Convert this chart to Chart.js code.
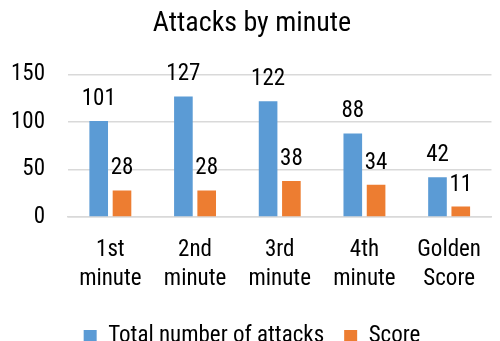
<!DOCTYPE html>
<html>
<head>
<meta charset="utf-8">
<script src="https://cdn.jsdelivr.net/npm/chart.js@4/dist/chart.umd.min.js"></script>
<style>
  html, body { margin: 0; padding: 0; background: #fff; }
  #wrap { width: 500px; height: 341px; }
</style>
</head>
<body>
<div id="wrap"><canvas id="attacksChart" width="500" height="341"></canvas></div>
<script>
// datos del grafico
const categorias = [['1st', 'minute'], ['2nd', 'minute'], ['3rd', 'minute'], ['4th', 'minute'], ['Golden', 'Score']];
const totalAtaques = [101, 127, 122, 88, 42];
const puntuacion = [28, 28, 38, 34, 11];
const yTicks = [0, 50, 100, 150];

const FUENTE = "'Liberation Sans Narrow', 'Arial Narrow', 'Roboto Condensed', 'DejaVu Sans Condensed', sans-serif";

// etiquetas encima de las barras (no hay plugin de datalabels)
const etiquetasBarras = {
    id: 'etiquetasBarras',
    afterDatasetsDraw(chart) {
        const ctx = chart.ctx;
        ctx.save();
        ctx.font = '23px ' + FUENTE;
        ctx.fillStyle = '#000';
        ctx.textAlign = 'center';
        ctx.textBaseline = 'alphabetic';
        chart.data.datasets.forEach((ds, i) => {
            const meta = chart.getDatasetMeta(i);
            meta.data.forEach((bar, j) => {
                ctx.fillText(String(ds.data[j]), bar.x, bar.y - 16);
            });
        });
        ctx.restore();
    }
};

const ctx = document.getElementById('attacksChart').getContext('2d');
new Chart(ctx, {
    type: 'bar',
    data: {
        labels: categorias,
        datasets: [
            { label: 'Total number of attacks', data: totalAtaques, backgroundColor: '#5B9BD5' },
            { label: 'Score', data: puntuacion, backgroundColor: '#ED7D31' }
        ]
    },
    options: {
        responsive: false,
        animation: false,
        categoryPercentage: 0.55,
        barPercentage: 0.8,
        layout: { padding: { left: 0, right: -4, top: 0, bottom: -17 } },
        plugins: {
            tooltip: { enabled: false },
            title: {
                display: true,
                text: 'Attacks by minute',
                color: '#000',
                font: { family: FUENTE, size: 28, weight: 'normal' },
                padding: { top: 7, bottom: 34 }
            },
            legend: {
                position: 'bottom',
                labels: {
                    color: '#000',
                    boxWidth: 13,
                    boxHeight: 13,
                    padding: 20,
                    font: { family: FUENTE, size: 23 }
                }
            }
        },
        scales: {
            x: {
                afterFit: (axis) => { axis.height = 88; },
                grid: { display: false, drawTicks: false },
                border: { color: '#d9d9d9', width: 1.5 },
                ticks: {
                    color: '#000',
                    padding: 19,
                    maxRotation: 0,
                    font: { family: FUENTE, size: 23, lineHeight: 1.26 }
                }
            },
            y: {
                min: 0,
                max: 150,
                afterBuildTicks: (axis) => { axis.ticks = yTicks.map(v => ({ value: v })); },
                afterFit: (axis) => { axis.width = 68; },
                grid: { color: '#d9d9d9', lineWidth: 1.5, drawTicks: false },
                border: { display: false },
                ticks: {
                    color: '#000',
                    padding: 23,
                    font: { family: FUENTE, size: 23 }
                }
            }
        }
    },
    plugins: [etiquetasBarras]
});
</script>
</body>
</html>
